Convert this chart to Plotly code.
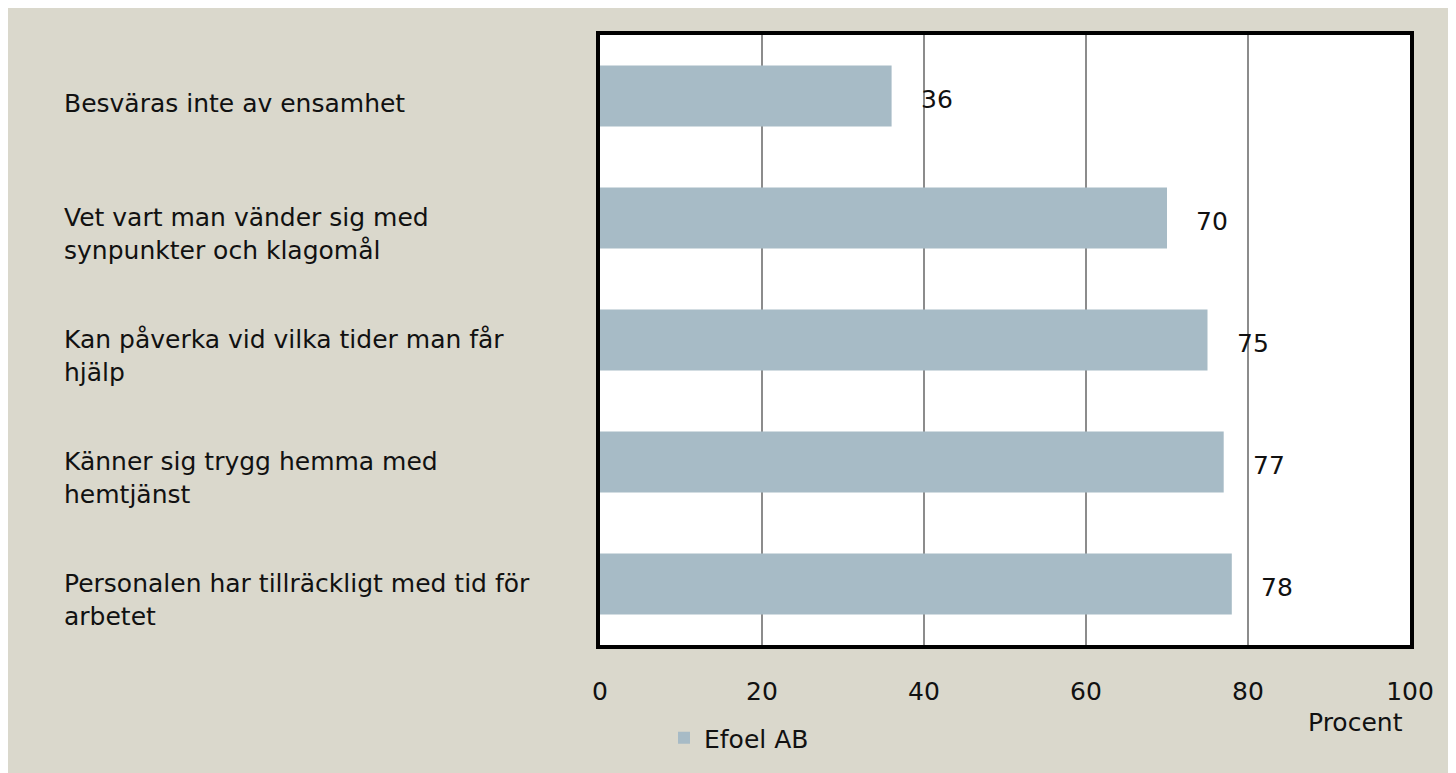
import plotly.graph_objects as go

categories = [
    'Besväras inte av ensamhet',
    'Vet vart man vänder sig med<br>synpunkter och klagomål',
    'Kan påverka vid vilka tider man får<br>hjälp',
    'Känner sig trygg hemma med<br>hemtjänst',
    'Personalen har tillräckligt med tid för<br>arbetet',
]
values = [36, 70, 75, 77, 78]
series_name = 'Efoel AB'
x_ticks = [0, 20, 40, 60, 80, 100]

bar_color = '#A7BBC6'
bg_color = '#DAD8CC'
text_color = '#111111'
font_family = 'DejaVu Sans'
font_size = 25

# the page body adds 8px around the figure
W, H = 1448, 767
margin = {'l': 592, 'r': 46, 't': 27, 'b': 130}
plot_w = W - margin['l'] - margin['r']
plot_h = H - margin['t'] - margin['b']

fig = go.Figure()
fig.add_trace(go.Bar(
    y=categories,
    x=values,
    orientation='h',
    name=series_name,
    marker=dict(color=bar_color, line=dict(width=0)),
    width=0.5,
    hoverinfo='x+y',
))

annotations = []
# value labels right of bars
for cat, v in zip(categories, values):
    annotations.append(dict(
        x=v, y=cat, xref='x', yref='y',
        text=str(v), showarrow=False,
        xanchor='left', xshift=27, yshift=-3,
        font=dict(size=font_size, color=text_color),
    ))

# category labels, left aligned in the margin
for cat in categories:
    two_lines = '<br>' in cat
    annotations.append(dict(
        x=(54 - margin['l']) / plot_w, y=cat, xref='paper', yref='y',
        text=cat, showarrow=False, xanchor='left', align='left',
        yshift=-16 if two_lines else -7,
        font=dict(size=font_size, color=text_color),
    ))

annotations.append(dict(
    x=1.0, y=-77 / plot_h, xref='paper', yref='paper',
    text='Procent', showarrow=False, xanchor='right', yanchor='middle',
    xshift=-5,
    font=dict(size=font_size, color=text_color),
))

fig.update_layout(
    width=W, height=H,
    margin=margin,
    paper_bgcolor=bg_color,
    plot_bgcolor='white',
    font=dict(family=font_family, size=font_size, color=text_color),
    bargap=0.5,
    showlegend=True,
    legend=dict(
        orientation='h',
        x=(656 - margin['l']) / plot_w, xanchor='left',
        y=-93 / plot_h, yanchor='middle',
        bgcolor='rgba(0,0,0,0)',
        font=dict(size=font_size),
    ),
    annotations=annotations,
    xaxis=dict(
        range=[0, 100],
        tickvals=x_ticks,
        ticktext=[str(t) for t in x_ticks],
        showgrid=True, gridcolor='#8C8C8C', gridwidth=1.5,
        zeroline=False,
        showline=True, linecolor='black', linewidth=4, mirror=True,
        ticks='', ticklabelstandoff=21,
    ),
    yaxis=dict(
        autorange='reversed',
        showticklabels=False,
        showgrid=False, zeroline=False,
        showline=True, linecolor='black', linewidth=4, mirror=True,
        ticks='',
    ),
)

fig.write_html('out.html')
